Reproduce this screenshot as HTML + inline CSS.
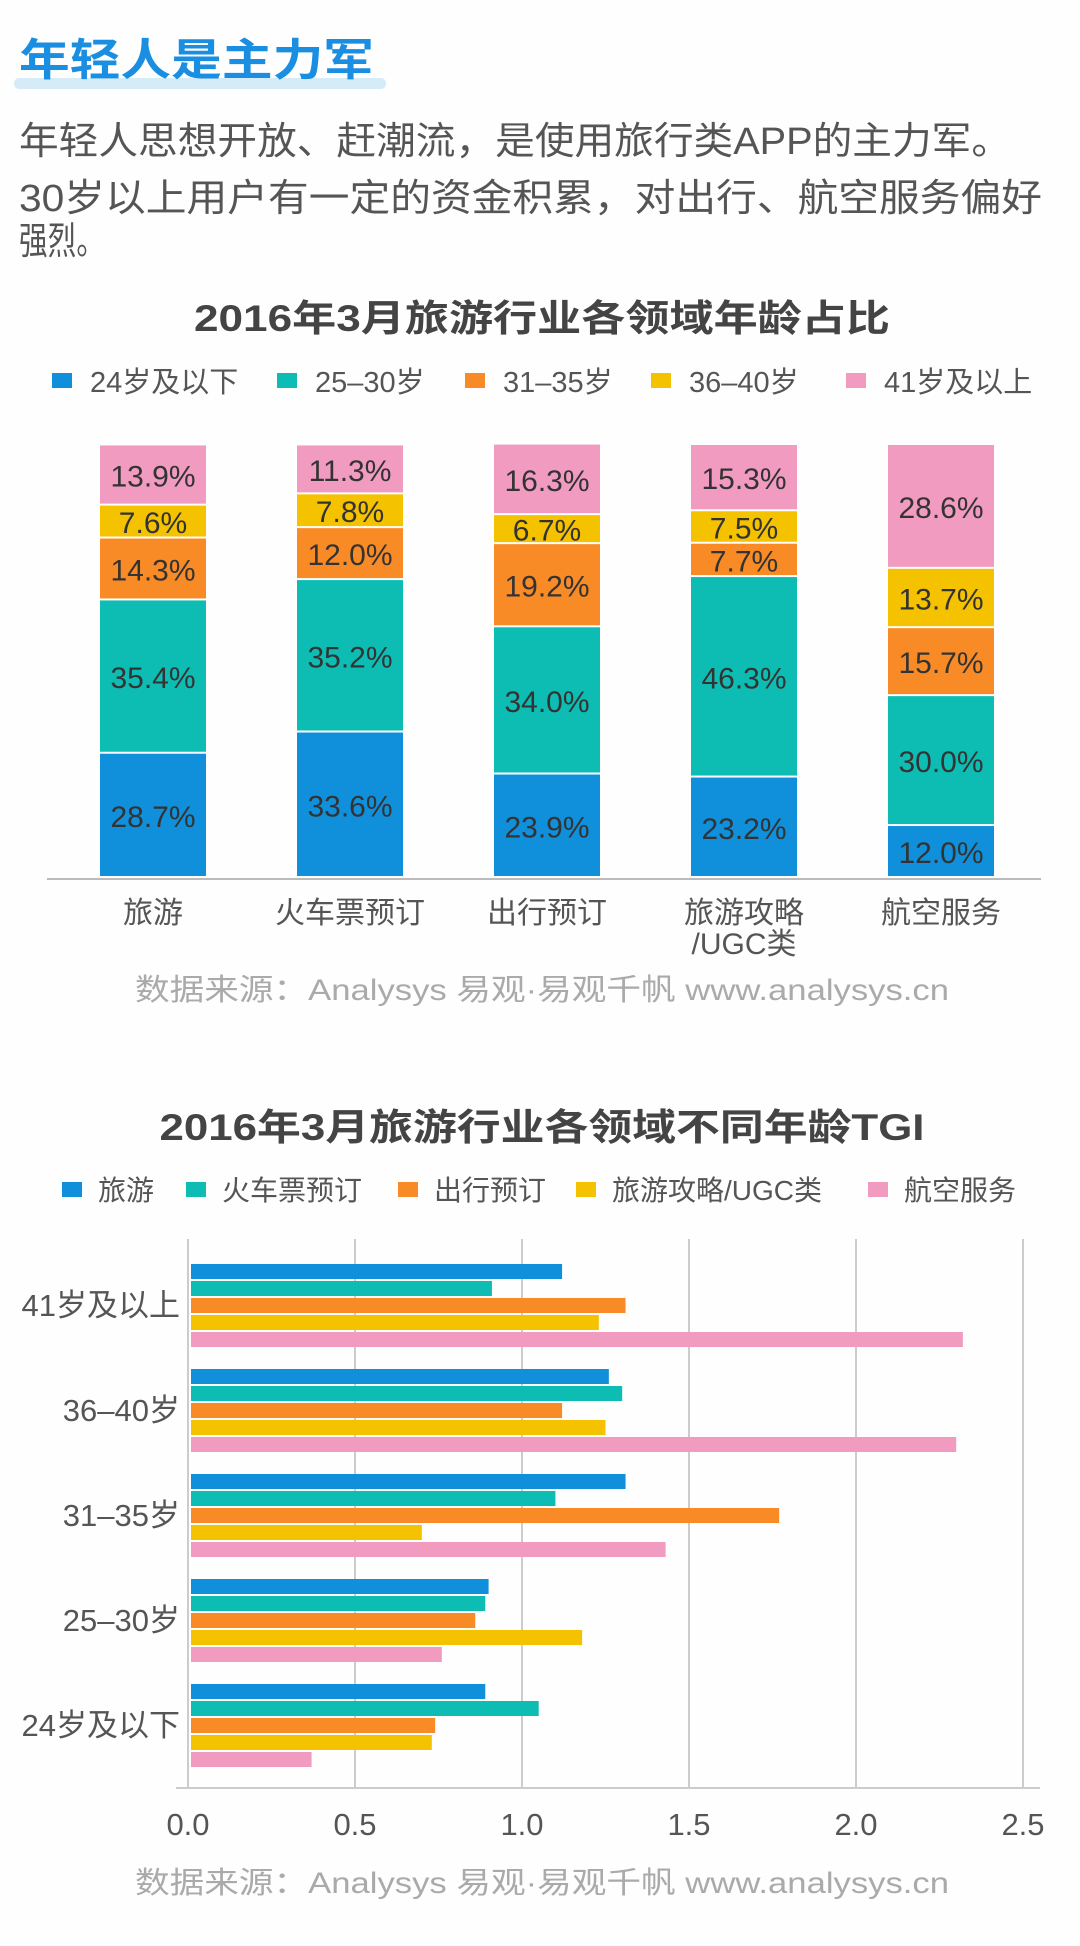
<!DOCTYPE html>
<html><head><meta charset="utf-8"><style>
body{margin:0;background:#fefefe;}
svg{display:block;font-family:"Liberation Sans","Noto Sans CJK SC",sans-serif;}
</style></head><body>
<svg id="page" width="1080" height="1946" viewBox="0 0 1080 1946">
<rect x="0" y="0" width="1080" height="1946" fill="#fefefe"/>
<rect x="14" y="78" width="372" height="11" rx="5" fill="#d5ebf8"/>
<text x="19" y="75" font-size="44" font-weight="bold" fill="#1a8ee0" textLength="355" lengthAdjust="spacingAndGlyphs">年轻人是主力军</text>
<g fill="#555" font-size="38">
<text x="19" y="154" textLength="992" lengthAdjust="spacingAndGlyphs">年轻人思想开放、赶潮流，是使用旅行类APP的主力军。</text>
<text x="19" y="211" textLength="1023" lengthAdjust="spacingAndGlyphs">30岁以上用户有一定的资金积累，对出行、航空服务偏好</text>
<text x="19" y="254" textLength="86" lengthAdjust="spacingAndGlyphs">强烈。</text>
</g>
<text x="542" y="331" text-anchor="middle" font-size="37" font-weight="bold" fill="#444" textLength="696" lengthAdjust="spacingAndGlyphs">2016年3月旅游行业各领域年龄占比</text>
<g id="c1legend"></g>
<g id="c1bars"></g>
<g id="c1labels"></g>
<text x="542" y="1000" text-anchor="middle" font-size="30" fill="#aaa" textLength="814" lengthAdjust="spacingAndGlyphs">数据来源：Analysys 易观·易观千帆 www.analysys.cn</text>
<text x="542" y="1140" text-anchor="middle" font-size="37" font-weight="bold" fill="#444" textLength="765" lengthAdjust="spacingAndGlyphs">2016年3月旅游行业各领域不同年龄TGI</text>
<g id="c2legend"></g>
<g id="c2grid"></g>
<g id="c2bars"></g>
<text x="542" y="1893" text-anchor="middle" font-size="30" fill="#aaa" textLength="814" lengthAdjust="spacingAndGlyphs">数据来源：Analysys 易观·易观千帆 www.analysys.cn</text>
</svg>
<script>
const ageGroups = ["24岁及以下","25-30岁","31-35岁","36-40岁","41岁及以上"];
const sectors = ["旅游","火车票预订","出行预订","旅游攻略/UGC类","航空服务"];
const share24 = [28.7,33.6,23.9,23.2,12.0];
const share25 = [35.4,35.2,34.0,46.3,30.0];
const share31 = [14.3,12.0,19.2,7.7,15.7];
const share36 = [7.6,7.8,6.7,7.5,13.7];
const share41 = [13.9,11.3,16.3,15.3,28.6];
const tgiTravel = [0.89,0.90,1.31,1.26,1.12];
const tgiTrain = [1.05,0.89,1.10,1.30,0.91];
const tgiTrip = [0.74,0.86,1.77,1.12,1.31];
const tgiGuide = [0.73,1.18,0.70,1.25,1.23];
const tgiAir = [0.37,0.76,1.43,2.30,2.32];
const xTicks = [0,0.5,1.0,1.5,2.0,2.5];

const NS="http://www.w3.org/2000/svg";
const colors=["#108fdb","#0dbdb4","#f98b26","#f5c200","#f29bc1"];
function mk(tag,attrs,parent,text){const e=document.createElementNS(NS,tag);for(const k in attrs)e.setAttribute(k,attrs[k]);if(text!==undefined)e.textContent=text;parent.appendChild(e);return e;}

// Chart 1
const c1legend=document.getElementById('c1legend');
const c1lx=[52,277,465,651,846];
ageGroups.forEach((g,i)=>{
  const r=mk('rect',{x:c1lx[i],y:373,width:20,height:15,fill:colors[i]},c1legend);
  
  
  const t=mk('text',{x:c1lx[i]+38,y:392,'font-size':29,fill:'#555'},c1legend,g.replace('-','–'));
  
  
});
const c1bars=document.getElementById('c1bars');
const series1=[share24,share25,share31,share36,share41];
const top1=445,bot1=878,bx0=100,bpitch=197,bw=106;
function y1(v){return (bot1-top1)*v/100;}
sectors.forEach((s,ci)=>{
  let y=bot1;
  const x=bx0+ci*bpitch;
  series1.forEach((arr,si)=>{
    const h=y1(arr[ci]);
    const r=mk('rect',{x:x,y:y-h,width:bw,height:Math.max(h-2,0),fill:colors[si]},c1bars);
    
    
    const t=mk('text',{x:x+bw/2,y:y-h/2+11,'text-anchor':'middle','font-size':30,fill:'#333'},c1bars,arr[ci].toFixed(1)+'%');
    
    
    y-=h;
  });
});
const base=mk('line',{x1:47,x2:1041,y1:879,y2:879,stroke:'#bbb','stroke-width':2},c1bars);


const c1labels=document.getElementById('c1labels');
sectors.forEach((s,ci)=>{
  const cx=bx0+ci*bpitch+bw/2;
  const lines=s.indexOf('/')>0?[s.split('/')[0],'/'+s.split('/')[1]]:[s];
  lines.forEach((ln,li)=>{
    const t=mk('text',{x:cx,y:923+li*31,'text-anchor':'middle','font-size':30,fill:'#555'},c1labels,ln);
    
    
  });
});

// Chart 2
const c2legend=document.getElementById('c2legend');
const c2sx=[62,186,398,576,868];
sectors.forEach((s,i)=>{
  const r=mk('rect',{x:c2sx[i],y:1182,width:20,height:15,fill:colors[i]},c2legend);
  
  
  const t=mk('text',{x:c2sx[i]+36,y:1200,'font-size':28,fill:'#555'},c2legend,s);
  
  
});
const x0=188,unit=334,gTop=1239,gBot=1788;
function xs(v){return x0+v*unit;}
const c2grid=document.getElementById('c2grid');
xTicks.forEach(v=>{
  const l=mk('line',{x1:xs(v),x2:xs(v),y1:gTop,y2:gBot,stroke:'#ccc','stroke-width':2},c2grid);
  
  
  const t=mk('text',{x:xs(v),y:1835,'text-anchor':'middle','font-size':31,fill:'#555'},c2grid,v.toFixed(1));
  
  
});
const ax=mk('line',{x1:176,x2:1040,y1:gBot,y2:gBot,stroke:'#ccc','stroke-width':2},c2grid);


const c2bars=document.getElementById('c2bars');
const series2=[tgiTravel,tgiTrain,tgiTrip,tgiGuide,tgiAir];
ageGroups.forEach((g,gi)=>{
  const row=ageGroups.length-1-gi;
  const gy=1264+row*105;
  series2.forEach((arr,si)=>{
    const r=mk('rect',{x:xs(0)+3,y:gy+si*17,width:Math.max(xs(arr[gi])-xs(0)-3,0),height:15,fill:colors[si]},c2bars);
    
    
  });
  const t=mk('text',{x:180,y:gy+52,'text-anchor':'end','font-size':31,fill:'#555'},c2bars,g.replace('-','–'));
  
  
});
</script>
</body></html>
